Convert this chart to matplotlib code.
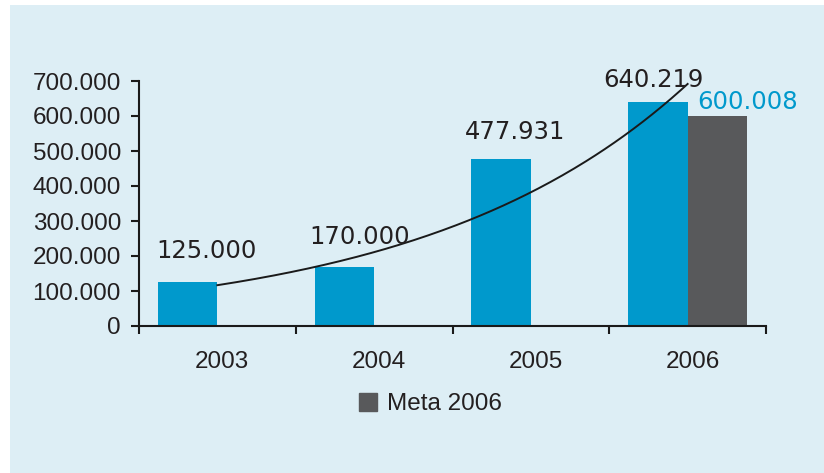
import numpy as np
import matplotlib
matplotlib.use('Agg')
import matplotlib.pyplot as plt
import matplotlib.transforms as mtransforms
from matplotlib.patches import Rectangle, Patch

# dados
anos = ['2003', '2004', '2005', '2006']
realizado = [125000, 170000, 477931, 640219]
meta = [0, 0, 0, 600008]
rotulos = ['125.000', '170.000', '477.931', '640.219']
rotulo_meta = '600.008'

azul = '#0099cc'
cinza = '#58595b'
fundo = '#ddeef5'
texto = '#231f20'

fig = plt.figure(figsize=(8.24, 4.73), dpi=100)
fig.patches.append(Rectangle((10 / 824, 0), 1, 1 - 5 / 473, transform=fig.transFigure,
                             facecolor=fundo, edgecolor='none', zorder=-10))
ax = fig.add_axes([139 / 824, 147 / 473, 627 / 824, 245 / 473])
ax.set_facecolor('none')

x = np.arange(len(anos)) + 0.5
w = 0.38
ax.bar(x - w / 2, realizado, width=w, color=azul, zorder=2)
ax.bar(x[3] + w / 2, meta[3], width=w, color=cinza, zorder=2, label='Meta 2006')

# linha de tendência exponencial
coef = np.polyfit(np.arange(1, 5), np.log(realizado), 1)
xt = np.linspace(1, 4, 200)
ax.plot(xt - 0.5, np.exp(np.polyval(coef, xt)), color='#1a1a1a', lw=1.4, zorder=3)

# rótulos de valor
desloc = [(13.3, 22.3), (10.8, 20.9), (10.4, 19.4), (-2.9, 15.8)]
for i in range(4):
    ax.annotate(rotulos[i], (x[i] - w / 2, realizado[i]), xytext=desloc[i],
                textcoords='offset points', ha='center', va='center',
                fontsize=17.5, family='DejaVu Sans', color=texto, zorder=4)
ax.annotate(rotulo_meta, (x[3] + w / 2, meta[3]), xytext=(21.6, 10.4),
            textcoords='offset points', ha='center', va='center',
            fontsize=17.5, family='DejaVu Sans', color=azul, zorder=4, annotation_clip=False)

ax.set_xlim(0, 4)
ax.set_ylim(0, 700000)
ax.set_yticks(np.arange(0, 700001, 100000))
ax.set_yticklabels(['0'] + ['%d.000' % v for v in range(100, 701, 100)])
ax.set_xticks(np.arange(0, 5))
ax.set_xticklabels([])
ax.set_xticks(x, minor=True)
ax.set_xticklabels(anos, minor=True)

for s in ['top', 'right']:
    ax.spines[s].set_visible(False)
for s in ['left', 'bottom']:
    ax.spines[s].set_linewidth(1.5)
    ax.spines[s].set_color('#1a1a1a')

ax.tick_params(axis='y', length=6, width=1.5, pad=7, labelsize=17.5,
               labelcolor=texto, color='#1a1a1a')
ax.tick_params(axis='x', which='major', length=6, width=1.5, color='#1a1a1a')
ax.tick_params(axis='x', which='minor', length=0, pad=18, labelsize=17.5, labelcolor=texto)
for t in ax.get_yticklabels() + ax.get_xticklabels(minor=True):
    t.set_family('Liberation Sans')

# rótulos dos anos levemente deslocados para a direita, como no original
desl = mtransforms.ScaledTranslation(5 / 100, 0, fig.dpi_scale_trans)
for t in ax.get_xticklabels(minor=True):
    t.set_transform(t.get_transform() + desl)

leg = fig.legend(handles=[Patch(color=cinza, label='Meta 2006')], loc='center',
                 bbox_to_anchor=(430 / 824, 1 - 404 / 473), frameon=False,
                 prop={'family': 'Liberation Sans', 'size': 17.5},
                 handlelength=0.75, handleheight=0.75, handletextpad=0.4)
for t in leg.get_texts():
    t.set_color(texto)

fig.savefig('out.png', dpi=100, facecolor='white')
